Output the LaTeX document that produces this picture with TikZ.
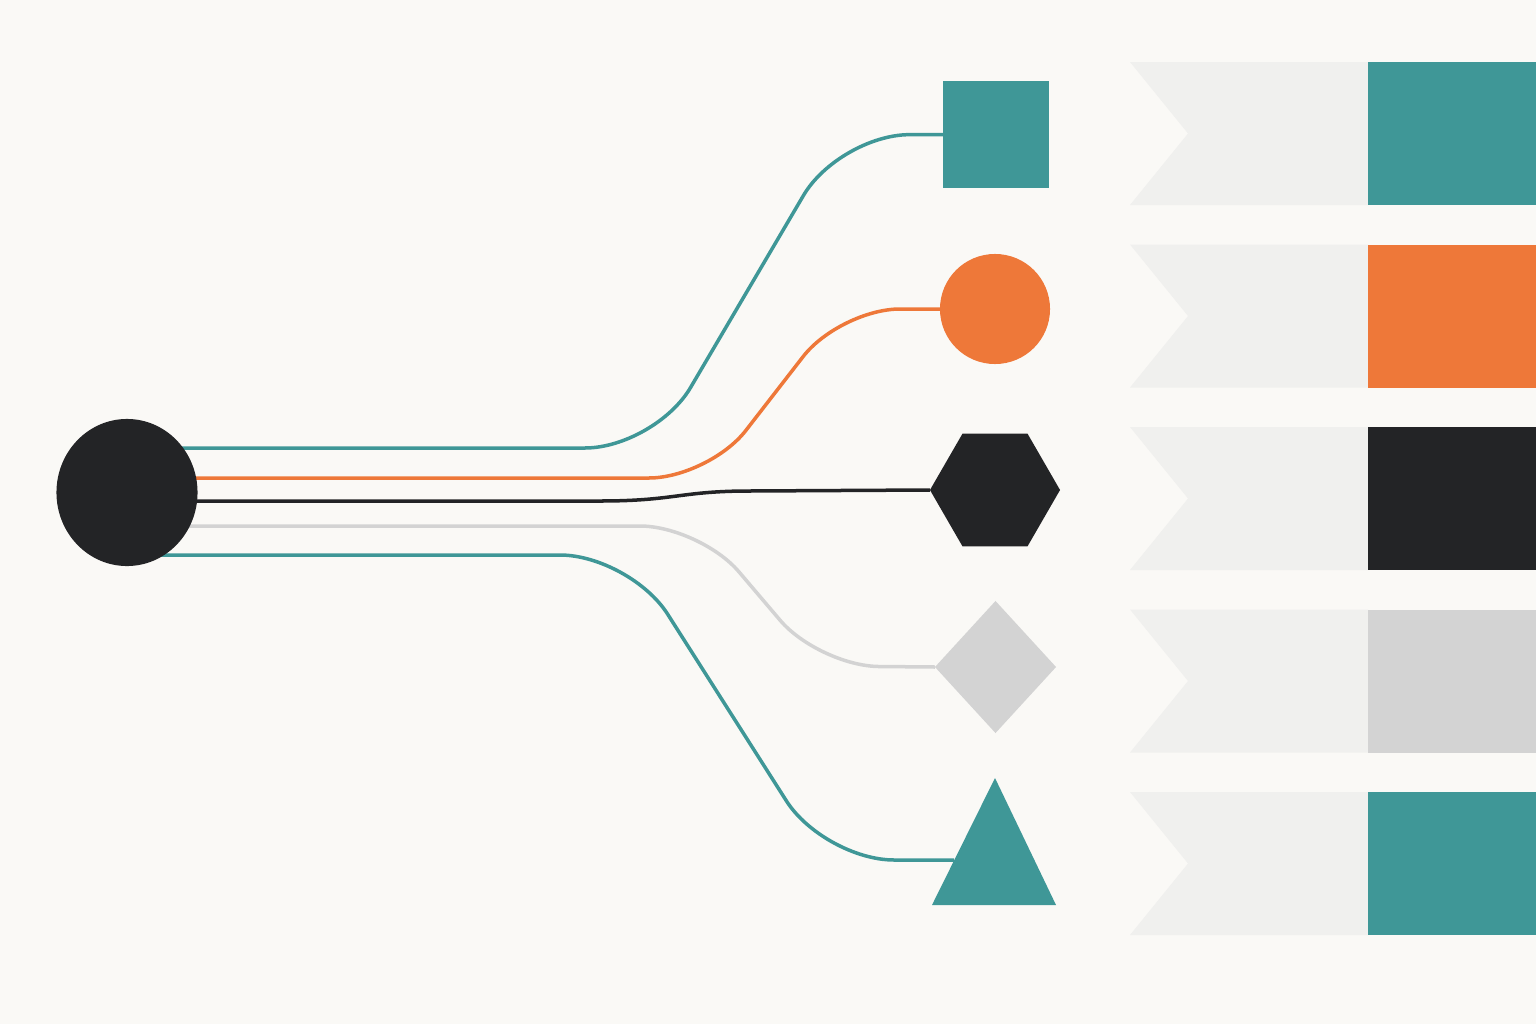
\documentclass[tikz,border=0pt]{standalone}
\usepackage{tikz}
\usetikzlibrary{shapes.geometric}
\definecolor{paper}{HTML}{FAF9F6}
\definecolor{flag}{HTML}{F0F0EE}
\definecolor{tealc}{HTML}{3F9797}
\definecolor{orangec}{HTML}{EE7839}
\definecolor{ink}{HTML}{232426}
\definecolor{lgray}{HTML}{D3D3D3}
\tikzset{
  wire/.style = {line width=0.35mm},
  solid shape/.style = {inner sep=0pt, outer sep=0pt}
}

\begin{document}
\begin{tikzpicture}[x=0.01cm, y=-0.01cm]
\useasboundingbox (0,0) rectangle (1536,1024);
\fill[paper] (0,0) rectangle (1536,1024);

\foreach \c [count=\i from 0] in {tealc, orangec, ink, lgray, tealc}{
  \fill[flag] (1130,62+182.5*\i) -- (1368,62+182.5*\i) -- (1368,205+182.5*\i)
    -- (1130,205+182.5*\i) -- (1188,133.5+182.5*\i) -- cycle;
  \fill[\c] (1368,62+182.5*\i) rectangle (1536,205+182.5*\i);
}

\node[solid shape, fill=tealc, minimum size=1.06cm] (sq) at (996,134.5) {};
\node[solid shape, circle, fill=orangec, minimum size=1.10cm] (ci) at (995,309) {};
\node[solid shape, regular polygon, regular polygon sides=6, fill=ink, minimum size=1.30cm] (hx) at (995,490) {};
\node[solid shape, diamond, fill=lgray, minimum width=1.21cm, minimum height=1.32cm] (dm) at (995.5,667) {};

\coordinate (tr_top) at (995,778);
\coordinate (tr_r) at (1056,905);
\coordinate (tr_l) at (932,905);
\fill[tealc] (tr_top) -- (tr_r) -- (tr_l) -- cycle;
\coordinate (tr_w) at (954,860);

\coordinate (h1) at (127,448);
\coordinate (h2) at (127,478);
\coordinate (h3) at (127,501);
\coordinate (h4) at (127,526);
\coordinate (h5) at (127,555);

\draw[tealc, wire, rounded corners=0.7cm] (h1) -- (655,448) -- (839,135) -- (sq.west);
\draw[orangec, wire, rounded corners=0.6cm] (h2) -- (709,478) -- (840,309) -- (ci.west);
\draw[ink, wire] (h3) -- (600,501) .. controls (675,501) and (680,491) .. (750,491) -- (hx.west);
\draw[lgray, wire, rounded corners=0.6cm] (h4) -- (700,526) -- (819,666) -- (dm.west);
\draw[tealc, wire, rounded corners=0.7cm] (h5) -- (630,555) -- (824,860) -- (tr_w);

\node[solid shape, ellipse, fill=ink, minimum width=1.41cm, minimum height=1.47cm] (hub) at (127,492.5) {};
\end{tikzpicture}
\end{document}
